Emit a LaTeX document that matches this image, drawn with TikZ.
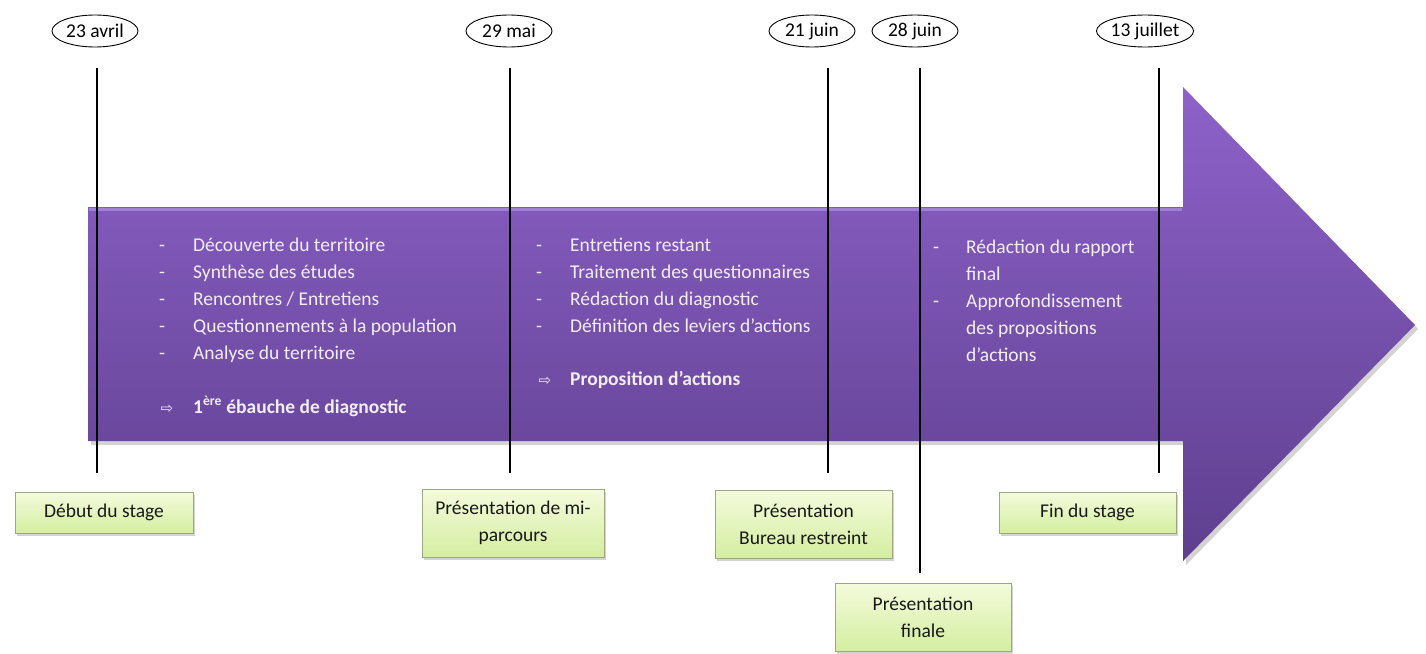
\documentclass[tikz,border=0pt]{standalone}
\usepackage{fontspec}
\setmainfont{Carlito}
\newfontfamily\symfont{DejaVu Sans}
\usetikzlibrary{shadows,shapes.geometric}
\definecolor{purpletop}{HTML}{8E62CA}
\definecolor{purplebot}{HTML}{5E3F8E}
\definecolor{purplehl}{HTML}{A88ADB}
\definecolor{arrowtext}{HTML}{F2EEF8}
\definecolor{boxtop}{HTML}{F4FBDC}
\definecolor{boxbot}{HTML}{D4EEA0}
\definecolor{boxline}{HTML}{9DA883}
\begin{document}
\begin{tikzpicture}[x=1pt,y=-1pt,
  every node/.style={font=\fontsize{19.5}{27}\selectfont},
  datelabel/.style={ellipse, draw=black, line width=0.9pt, fill=white,
    minimum width=86pt, minimum height=32pt, inner sep=0pt},
  event/.style={draw=boxline, line width=0.8pt, top color=boxtop, bottom color=boxbot,
    align=center, inner sep=0pt, text=black!90,
    drop shadow={opacity=0.35, shadow xshift=2pt, shadow yshift=-3pt}},
  tick/.style={line width=1.4pt, black},
  item/.style={anchor=base west, text=arrowtext, inner sep=0pt},
  dashmark/.style={anchor=base, text=arrowtext, inner sep=0pt},
  arrowshape/.style={top color=purpletop, bottom color=purplebot, draw=none,
    drop shadow={opacity=0.35, shadow xshift=3pt, shadow yshift=-4pt}},
]
\useasboundingbox (0,0) rectangle (1426,653);

% big arrow
\path[arrowshape] (88,207) -- (1183,207) -- (1183,87) -- (1415,325) -- (1183,561)
  -- (1183,441) -- (88,441) -- cycle;
\draw[purplehl, line width=3pt, opacity=0.8] (89,209) -- (1182,209);

% tick lines
\coordinate (t1) at (97,68);   \coordinate (u1) at (97,473);
\coordinate (t2) at (510,68);  \coordinate (u2) at (510,473);
\coordinate (t3) at (828,68);  \coordinate (u3) at (828,473);
\coordinate (t4) at (920,68);  \coordinate (u4) at (920,573);
\coordinate (t5) at (1159,68); \coordinate (u5) at (1159,473);
\draw[tick] (t1) -- (u1);
\draw[tick] (t2) -- (u2);
\draw[tick] (t3) -- (u3);
\draw[tick] (t4) -- (u4);
\draw[tick] (t5) -- (u5);

% column 1
\foreach \y/\t [count=\i] in {251/{Découverte du territoire}, 278/{Synthèse des études},
  305/{Rencontres / Entretiens}, 332/{Questionnements à la population}, 359/{Analyse du territoire}}{
  \node[dashmark] (ca\i) at (162,\y) {-};
  \node[item] (cb\i) at (193,\y) {\t};
}
\node[dashmark] (cam) at (167,413) {\symfont\fontsize{15}{18}\selectfont ⇨};
\node[item] (cbm) at (193,413) {\bfseries 1\textsuperscript{ère} ébauche de diagnostic};

% column 2
\foreach \y/\t [count=\i] in {251/{Entretiens restant}, 278/{Traitement des questionnaires},
  305/{Rédaction du diagnostic}, 332/{Définition des leviers d’actions}}{
  \node[dashmark] (da\i) at (539,\y) {-};
  \node[item] (db\i) at (570,\y) {\t};
}
\node[dashmark] (dam) at (545,385) {\symfont\fontsize{15}{18}\selectfont ⇨};
\node[item] (dbm) at (570,385) {\bfseries Proposition d’actions};

% column 3
\node[dashmark] (ea1) at (936,253) {-};
\node[item] (eb1) at (966,253) {Rédaction du rapport};
\node[item] (eb2) at (966,280) {final};
\node[dashmark] (ea2) at (936,307) {-};
\node[item] (eb3) at (966,307) {Approfondissement};
\node[item] (eb4) at (966,334) {des propositions};
\node[item] (eb5) at (966,361) {d’actions};

% event boxes
\node[event, minimum width=178pt, minimum height=41pt] (b1) at (104,512.5) {Début du stage};
\node[event, minimum width=182pt, minimum height=68pt] (b2) at (513,523) {Présentation de mi-\\parcours};
\node[event, minimum width=177pt, minimum height=68pt] (b3) at (803.5,524) {Présentation\\Bureau restreint};
\node[event, minimum width=176pt, minimum height=68pt] (b4) at (923,617) {Présentation\\finale};
\node[event, minimum width=177pt, minimum height=41pt] (b5) at (1087.5,512.5) {Fin du stage};

% date labels
\node[datelabel] (d1) at (95,31) {23 avril};
\node[datelabel] (d2) at (509,31) {29 mai};
\node[datelabel] (d3) at (812,31) {21 juin};
\node[datelabel] (d4) at (915,31) {28 juin};
\node[datelabel] (d5) at (1145,31) {13 juillet};
\end{tikzpicture}
\end{document}
